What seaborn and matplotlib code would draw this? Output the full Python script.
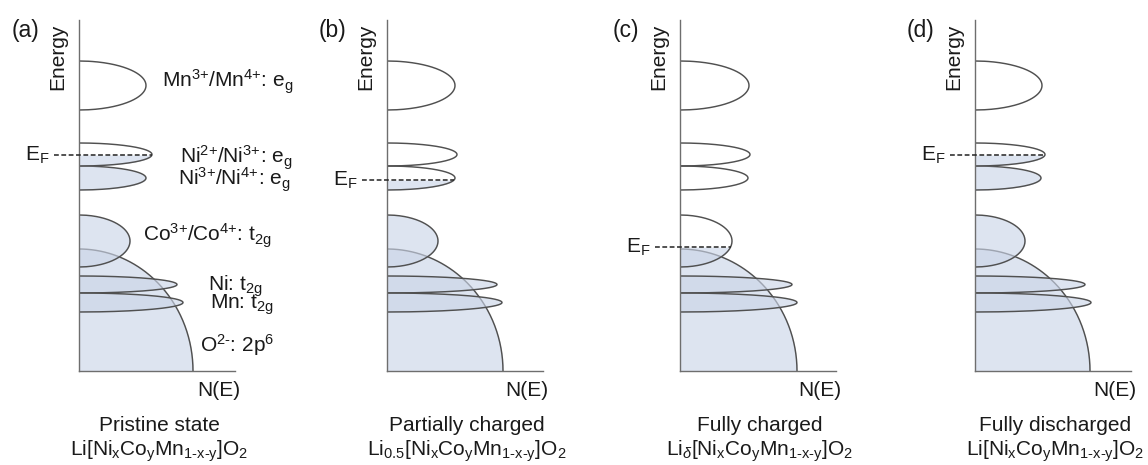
import numpy as np
import pandas as pd
import matplotlib
matplotlib.use("Agg")
import matplotlib.pyplot as plt
import seaborn as sns

# ---- band model data (energy / N(E) in drawing units, origin at the axes corner) ----
panel_tags = ["(a)", "(b)", "(c)", "(d)"]
state_names = ["Pristine state", "Partially charged", "Fully charged", "Fully discharged"]
formulas = [
    r"Li[Ni$_\mathrm{x}$Co$_\mathrm{y}$Mn$_{\text{1-x-y}}$]O$_2$",
    r"Li$_{0.5}$[Ni$_\mathrm{x}$Co$_\mathrm{y}$Mn$_{\text{1-x-y}}$]O$_2$",
    r"Li$_{\delta}$[Ni$_\mathrm{x}$Co$_\mathrm{y}$Mn$_{\text{1-x-y}}$]O$_2$",
    r"Li[Ni$_\mathrm{x}$Co$_\mathrm{y}$Mn$_{\text{1-x-y}}$]O$_2$",
]

# bands drawn on top of the O 2p band, in drawing order
band_names = ["Co t2g", "Ni t2g", "Mn t2g", "Ni3+/Ni4+ eg", "Ni2+/Ni3+ eg", "Mn eg"]
band_center = [130.0, 86.5, 68.5, 193.0, 216.5, 285.5]
band_halfspan = [26.0, 8.5, 9.5, 12.0, 11.5, 24.5]
band_peak = {
    "(a)": [51, 98, 104, 67, 73, 67],
    "(b)": [51, 110, 115, 68, 70, 68],
    "(c)": [52, 112, 117, 68, 70, 69],
    "(d)": [50, 110, 116, 66, 70, 67],
}
o2p_top = 122.0
o2p_peak = [114, 116, 117, 115]
fermi_level = [216.0, 191.0, 124.0, 216.0]

band_labels = [
    (r"Mn$^{\text{3+}}$/Mn$^{\text{4+}}$: e$_\mathrm{g}$", 83, 283),
    (r"Ni$^{\text{2+}}$/Ni$^{\text{3+}}$: e$_\mathrm{g}$", 101, 208),
    (r"Ni$^{\text{3+}}$/Ni$^{\text{4+}}$: e$_\mathrm{g}$", 99, 186),
    (r"Co$^{\text{3+}}$/Co$^{\text{4+}}$: t$_\mathrm{2g}$", 64, 130),
    (r"Ni: t$_\mathrm{2g}$", 129, 80),
    (r"Mn: t$_\mathrm{2g}$", 131, 62),
    (r"O$^{\text{2-}}$: 2p$^6$", 121, 19),
]

# ---- style ----
sns.set_theme(style="white")
plt.rcParams["font.family"] = ["Liberation Sans", "DejaVu Sans"]
plt.rcParams["mathtext.fontset"] = "custom"
plt.rcParams["mathtext.rm"] = "Liberation Sans"
plt.rcParams["mathtext.it"] = "Liberation Sans:italic"
plt.rcParams["mathtext.bf"] = "Liberation Sans:bold"

W, H = 1148, 465
fig = plt.figure(figsize=(W / 100, H / 100), dpi=100)
fig.patch.set_facecolor("white")

axis_px = [79, 387, 680, 975]
base_px = 371
xmax, ymax = 156, 351

fill_rgba = (203 / 255, 213 / 255, 232 / 255, 0.64)
edge_col = "#505050"
axis_col = "#6e6e6e"
text_col = "#1a1a1a"
fs = 15


def band_profile(center, half, peak, n=200):
    t = np.linspace(-1, 1, n)
    e = center + half * t
    x = peak * np.sqrt(np.clip(1 - t ** 2, 0, None))
    return x, e


for i, tag in enumerate(panel_tags):
    ax = fig.add_axes([axis_px[i] / W, (H - base_px) / H, xmax / W, ymax / H])
    ax.set_xlim(0, xmax)
    ax.set_ylim(0, ymax)
    ax.set_xticks([])
    ax.set_yticks([])
    ax.patch.set_alpha(0)
    for s in ["top", "right"]:
        ax.spines[s].set_visible(False)
    for s in ["left", "bottom"]:
        ax.spines[s].set_color(axis_col)
        ax.spines[s].set_linewidth(1.0)
        ax.spines[s].set_zorder(20)

    ef = fermi_level[i]
    z = 2

    # O 2p band: quarter ellipse, fully occupied
    th = np.linspace(0, np.pi / 2, 200)
    ox = o2p_peak[i] * np.cos(th)
    oe = o2p_top * np.sin(th)
    ax.fill_betweenx(oe, 0, ox, color=fill_rgba, lw=0, zorder=z)
    sns.lineplot(x=ox, y=oe, sort=False, estimator=None, ax=ax,
                 color=edge_col, lw=1.05, zorder=z + 1)
    z += 2

    ef_end = 0.0
    for j, name in enumerate(band_names):
        bx, be = band_profile(band_center[j], band_halfspan[j], band_peak[tag][j])
        occ = be <= ef
        if occ.any():
            ax.fill_betweenx(be, 0, np.where(occ, bx, 0), where=occ,
                             color=fill_rgba, lw=0, zorder=z)
        sns.lineplot(x=bx, y=be, sort=False, estimator=None, ax=ax,
                     color=edge_col, lw=1.05, zorder=z + 1)
        if be.min() <= ef <= be.max():
            ef_end = max(ef_end, float(np.interp(ef, be, bx)))
        z += 2

    # Fermi level
    ax.plot([-25, ef_end], [ef, ef], ls=(0, (3, 1.6)), color="#2a2a2a",
            lw=1.15, clip_on=False, zorder=30)
    ax.text(-29, ef, r"E$_\mathrm{F}$", ha="right", va="center",
            fontsize=fs, color=text_col)

    # axis annotations
    ax.text(-54, 341, tag, ha="center", va="center", fontsize=16.5, color=text_col)
    ax.text(-21, 314, "Energy", rotation=90, ha="center", va="center",
            fontsize=fs, color=text_col)
    ax.text(140, -19, "N(E)", ha="center", va="center", fontsize=fs, color=text_col)
    ax.text(80, -54, state_names[i], ha="center", va="center", fontsize=fs,
            color=text_col)
    ax.text(80, -80, formulas[i], ha="center", va="center", fontsize=fs,
            color=text_col)

    if i == 0:
        for txt, lx, ly in band_labels:
            ax.text(lx, ly, txt, ha="left", va="baseline", fontsize=fs,
                    color=text_col, zorder=40)

fig.savefig("out.png", dpi=100, facecolor="white")
